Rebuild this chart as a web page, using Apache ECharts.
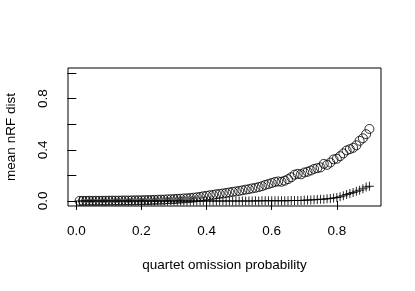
<!DOCTYPE html>
<html>
<head>
<meta charset="utf-8">
<script src="https://cdn.jsdelivr.net/npm/echarts@6/dist/echarts.min.js"></script>
<style>
html,body{margin:0;padding:0;background:#fff;}
#c{width:415px;height:291px;}
</style>
</head>
<body>
<div id="c"></div>
<script>
var omissionProb = [];
for (var i = 1; i <= 90; i++) omissionProb.push(+(i / 100).toFixed(2));

var circleValues = [
  0.000,0.000,0.000,0.001,0.000,0.001,0.001,0.001,0.001,0.002,
  0.002,0.002,0.002,0.003,0.003,0.003,0.004,0.004,0.005,0.005,
  0.006,0.006,0.007,0.008,0.009,0.010,0.010,0.012,0.013,0.014,
  0.016,0.017,0.019,0.020,0.023,0.025,0.028,0.031,0.036,0.040,
  0.044,0.047,0.052,0.055,0.058,0.062,0.066,0.071,0.074,0.078,
  0.083,0.088,0.092,0.098,0.102,0.108,0.115,0.125,0.132,0.140,
  0.148,0.152,0.150,0.158,0.170,0.185,0.205,0.212,0.208,0.222,
  0.228,0.238,0.250,0.256,0.262,0.290,0.282,0.300,0.325,0.330,
  0.350,0.372,0.395,0.405,0.415,0.435,0.470,0.490,0.522,0.563
];

var crossValues = [
  0.000,0.000,0.000,0.000,0.000,0.000,0.000,0.000,0.000,0.000,
  0.000,0.000,0.000,0.000,0.000,0.000,0.000,0.000,0.000,0.000,
  0.000,0.000,0.000,0.000,0.000,0.000,0.000,0.000,0.000,0.000,
  0.000,0.000,0.000,0.000,0.000,0.000,0.000,0.000,0.000,0.000,
  0.000,0.000,0.000,0.000,0.000,0.000,0.000,0.000,0.000,0.000,
  0.000,0.000,0.000,0.000,0.001,0.000,0.001,0.001,0.001,0.001,
  0.001,0.001,0.002,0.002,0.002,0.003,0.003,0.003,0.004,0.005,
  0.006,0.007,0.008,0.010,0.012,0.013,0.016,0.019,0.023,0.027,
  0.033,0.040,0.050,0.057,0.065,0.075,0.083,0.095,0.108,0.115
];

var xTicks = [0, 0.2, 0.4, 0.6, 0.8];
var yTicks = [0, 0.2, 0.4, 0.6, 0.8, 1.0];
var yLabels = [0, 0.4, 0.8];

function pairs(xs, ys) { return xs.map(function (x, i) { return [x, ys[i]]; }); }

var FONT = 'Liberation Sans, Arial, Helvetica, sans-serif';
var chart = echarts.init(document.getElementById('c'), null, {renderer: 'canvas'});
chart.setOption({
  animation: false,
  backgroundColor: '#fff',
  grid: {left: 68, right: 34, top: 68, bottom: 85, containLabel: false, outerBoundsMode: 'none',
    show: true, borderColor: '#000', borderWidth: 1, backgroundColor: 'transparent'},
  xAxis: {
    type: 'value', min: -0.0256, max: 0.9356,
    name: 'quartet omission probability', nameLocation: 'middle', nameGap: 52,
    nameTextStyle: {fontFamily: FONT, fontSize: 13.5, color: '#000'},
    axisLine: {show: false},
    splitLine: {show: false},
    axisTick: {show: true, inside: false, length: 9, customValues: xTicks, lineStyle: {color: '#000', width: 1}},
    axisLabel: {show: true, margin: 18, customValues: xTicks, fontFamily: FONT, fontSize: 13.5, color: '#000',
      formatter: function (v) { return v.toFixed(1); }}
  },
  yAxis: {
    type: 'value', min: -0.04, max: 1.04,
    name: 'mean nRF dist', nameLocation: 'middle', nameGap: 50,
    nameTextStyle: {fontFamily: FONT, fontSize: 13.5, color: '#000'},
    axisLine: {show: false},
    splitLine: {show: false},
    axisTick: {show: true, inside: false, length: 9, customValues: yTicks, lineStyle: {color: '#000', width: 1}},
    axisLabel: {show: true, margin: 18, rotate: 90, customValues: yLabels, fontFamily: FONT, fontSize: 13.5, color: '#000',
      formatter: function (v) { return v.toFixed(1); }}
  },
  series: [
    {
      type: 'scatter', data: pairs(omissionProb, crossValues),
      symbol: 'path://M0,4h9v1h-9z M4,0h1v9h-1z', symbolSize: 9,
      itemStyle: {color: '#000', opacity: 0.85}
    },
    {
      type: 'scatter', data: pairs(omissionProb, circleValues),
      symbol: 'circle', symbolSize: 9,
      itemStyle: {color: 'rgba(0,0,0,0)', borderColor: '#000', borderWidth: 1}
    }
  ]
});
</script>
</body>
</html>
